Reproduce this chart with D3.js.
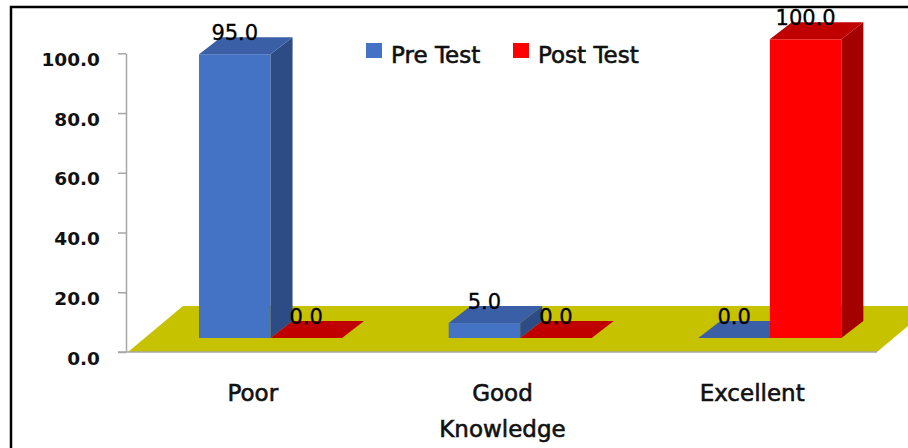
<!DOCTYPE html>
<html>
<head>
<meta charset="utf-8">
<script src="https://cdn.jsdelivr.net/npm/d3@7"></script>
<style>
  html, body { margin: 0; padding: 0; background: #fff; }
  svg { display: block; font-family: "DejaVu Sans", sans-serif; }
  .heavy { stroke: #111; stroke-width: 0.6px; paint-order: stroke; }
</style>
</head>
<body>
<svg id="chart" width="908" height="448"></svg>
<script>
// Knowledge levels before and after the test (percent of respondents)
const categories = ["Poor", "Good Knowledge", "Excellent"];
const series = ["Pre Test", "Post Test"];
const preTest = [95.0, 5.0, 0.0];
const postTest = [0.0, 0.0, 100.0];
const yTicks = [0, 20, 40, 60, 80, 100];

const seriesValues = [preTest, postTest];
const colors = {
  "Pre Test":  { front: "#4472C4", top: "#3A5FA6", side: "#2D4C86" },
  "Post Test": { front: "#FF0000", top: "#C00000", side: "#A50000" }
};

const svg = d3.select("#chart");

// front plane of the 3-D box
const axisX = 126, floorLeft = 128, floorRight = 877;
const y = d3.scaleLinear().domain([0, 100]).range([352, 53.3]);
const x = d3.scaleBand().domain(categories).range([floorLeft, floorRight]);

// projection offsets: where the bar row sits, the bar depth, and the floor depth
const rowDX = 17.7, rowDY = -14;
const barDX = 22, barDY = -17;
const floorDX = 55, floorDY = -46;
const barW = 71.5;
const inner = d3.scaleBand().domain(series).range([-barW, barW]);

// outer frame
svg.append("path")
  .attr("d", "M11,448V7H908")
  .attr("fill", "none").attr("stroke", "#000").attr("stroke-width", 2.5);

// floor plane
const y0 = y(0);
svg.append("path")
  .attr("d", `M${floorLeft},${y0}L${floorLeft + floorDX},${y0 + floorDY}L${floorRight + floorDX},${y0 + floorDY}L${floorRight},${y0}Z`)
  .attr("fill", "#C6C200");
svg.append("line")
  .attr("x1", axisX - 8).attr("x2", floorRight)
  .attr("y1", y0).attr("y2", y0)
  .attr("stroke", "#A6A6A6").attr("stroke-width", 1.5);

// y axis
const yAxis = svg.append("g")
  .attr("transform", `translate(${axisX},0)`)
  .call(d3.axisLeft(y).tickValues(yTicks).tickFormat(d3.format(".1f"))
    .tickSize(8).tickSizeOuter(0).tickPadding(18));
yAxis.select(".domain").attr("stroke", "#A6A6A6").attr("stroke-width", 1.5);
yAxis.selectAll(".tick line").attr("stroke", "#A6A6A6").attr("stroke-width", 1.5);
yAxis.selectAll(".tick text")
  .attr("dy", null).attr("y", 12)
  .attr("fill", "#111")
  .style("font-family", "'DejaVu Sans', sans-serif")
  .style("font-weight", "bold")
  .style("font-size", "18.5px");

// bars
const bars = [];
series.forEach((s, si) => {
  categories.forEach((c, ci) => {
    const v = seriesValues[si][ci];
    const cx = x(c) + x.bandwidth() / 2 + rowDX;
    const x0 = cx + inner(s), x1 = x0 + inner.bandwidth();
    const yb = y(0) + rowDY, yt = y(v) + rowDY;
    bars.push({ s, c, v, x0, x1, yb, yt });
  });
});

const barG = svg.append("g");
bars.forEach(b => {
  const col = colors[b.s];
  const g = barG.append("g");
  if (b.v > 0) {
    g.append("rect")
      .attr("x", b.x0).attr("y", b.yt)
      .attr("width", b.x1 - b.x0).attr("height", b.yb - b.yt)
      .attr("fill", col.front);
    g.append("path")
      .attr("d", `M${b.x1},${b.yt}L${b.x1 + barDX},${b.yt + barDY}L${b.x1 + barDX},${b.yb + barDY}L${b.x1},${b.yb}Z`)
      .attr("fill", col.side);
  }
  g.append("path")
    .attr("d", `M${b.x0},${b.yt}L${b.x0 + barDX},${b.yt + barDY}L${b.x1 + barDX},${b.yt + barDY}L${b.x1},${b.yt}Z`)
    .attr("fill", col.top);
});

// value labels
svg.append("g").selectAll("text")
  .data(bars)
  .join("text")
  .attr("x", d => (d.x0 + d.x1) / 2)
  .attr("y", d => d.yt + barDY + 3)
  .attr("text-anchor", "middle")
  .attr("fill", "#000")
  .style("font-size", "21px")
  .style("stroke", "#000").style("stroke-width", "0.3px")
  .text(d => d3.format(".1f")(d.v));

// category labels
svg.append("g").selectAll("text")
  .data(categories)
  .join("text")
  .attr("class", "heavy")
  .attr("text-anchor", "middle")
  .attr("fill", "#111")
  .style("font-size", "23px")
  .each(function (c) {
    const t = d3.select(this);
    c.split(" ").forEach((w, i) => {
      t.append("tspan")
        .attr("x", x(c) + x.bandwidth() / 2)
        .attr("y", 401 + i * 36)
        .text(w);
    });
  });

// legend
const legendX = [366, 513];
const legend = svg.append("g").selectAll("g")
  .data(series)
  .join("g")
  .attr("transform", (d, i) => `translate(${legendX[i]},43)`);
legend.append("rect")
  .attr("width", 16).attr("height", 15)
  .attr("fill", d => colors[d].front);
legend.append("text")
  .attr("class", "heavy")
  .attr("x", 25).attr("y", 19.5)
  .attr("fill", "#111")
  .style("font-size", "23px")
  .text(d => d);
</script>
</body>
</html>
